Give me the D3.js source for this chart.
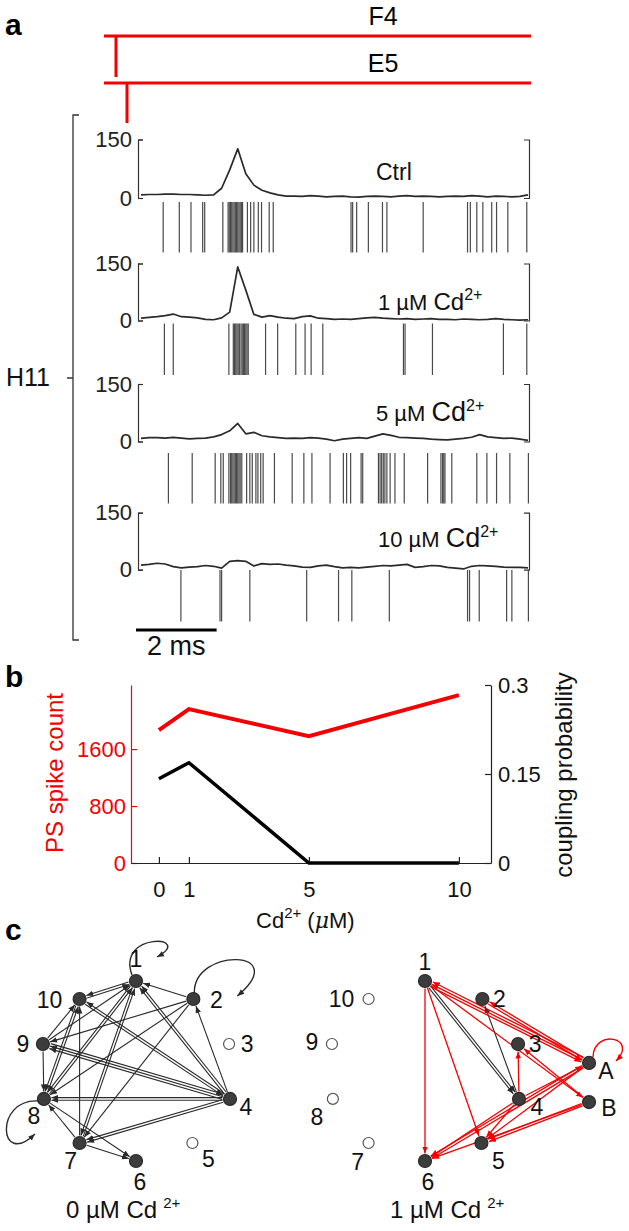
<!DOCTYPE html>
<html><head><meta charset="utf-8">
<script src="https://cdn.jsdelivr.net/npm/d3@7"></script>
<style>
html,body{margin:0;padding:0;background:#fff;}
svg{display:block;}
text{font-family:"Liberation Sans",Arial,Helvetica,sans-serif;}
</style></head><body>
<svg id="fig" width="629" height="1231"></svg>
<script>
// ================= DATA =================
// Panel a
const stimulusLabels = ["F4", "E5"];
const conditionLabels = ["Ctrl", "1 µM", "5 µM", "10 µM"];
const psthTicks = [0, 150];
const psthTimes = [0,0.2,0.4,0.6,0.8,1.0,1.2,1.4,1.6,1.8,2.0,2.2,2.4,2.6,2.8,3.0,3.2,3.4,3.6,3.8,4.0,4.2,4.4,4.6,4.8,
  5.0,5.2,5.4,5.6,5.8,6.0,6.2,6.4,6.6,6.8,7.0,7.2,7.4,7.6,7.8,8.0,8.2,8.4,8.6,8.8,9.0,9.2,9.4,9.6];
const psthCtrl = [8,9,9,10,10,9,9,8,7,8,25,72,126,62,33,20,13,8,5,5,4,6,5,3,4,5,3,2,4,5,4,3,5,6,4,5,4,3,4,5,4,6,5,3,5,4,3,4,8];
const psth1uM  = [6,8,10,13,17,10,9,7,3,2,7,22,141,80,16,9,13,9,6,5,10,12,6,5,3,4,3,5,7,8,6,5,4,5,3,4,5,3,3,2,4,3,2,3,5,3,2,1,2];
const psth5uM  = [8,10,10,9,11,9,7,8,9,12,18,28,47,20,24,15,12,10,8,9,8,10,9,6,2,6,8,10,8,14,20,16,11,10,9,8,6,5,4,6,8,11,18,12,10,8,9,6,3];
const psth10uM = [12,14,17,15,8,5,7,8,11,9,4,22,24,22,10,16,14,15,12,10,7,6,10,12,8,5,6,5,7,9,11,10,12,14,6,8,11,10,6,4,2,9,11,10,9,7,6,6,5];
const spikesCtrl = [0.55,0.95,1.24,1.53,1.58,2.03,2.16,2.19,2.22,2.25,2.28,2.31,2.34,2.37,2.40,2.43,2.46,2.49,2.52,2.64,2.72,2.80,2.91,2.99,3.18,3.28,5.21,5.25,5.35,5.64,5.99,6.10,7.00,8.10,8.17,8.33,8.48,8.70,8.82,9.10,9.57];
const spikes1uM = [0.58,0.80,2.18,2.29,2.32,2.35,2.38,2.41,2.44,2.48,2.51,2.54,2.57,2.60,2.63,2.66,3.09,3.39,3.84,4.07,4.22,4.51,6.51,6.55,7.23,8.99,9.57];
const spikes5uM = [0.68,1.27,1.84,1.98,2.04,2.18,2.22,2.25,2.28,2.31,2.34,2.37,2.40,2.43,2.46,2.50,2.62,2.70,2.76,2.85,2.90,2.97,3.03,3.31,3.75,4.04,4.24,4.69,5.02,5.10,5.20,5.46,5.50,5.89,5.93,5.97,6.01,6.05,6.10,6.18,6.30,6.53,7.11,7.44,7.48,7.51,7.54,7.71,8.33,8.58,8.82,9.15,9.61];
const spikes10uM = [0.99,1.96,2.00,2.70,4.11,4.90,5.23,6.16,8.10,8.15,8.39,9.07,9.20,9.61];
const scaleBarMs = 2;

// Panel b
const cdConc = [0, 1, 5, 10];
const psSpikeCount = [1867, 2161, 1782, 2358];
const couplingProb = [0.142, 0.169, 0, 0];
const xTicksB = [0, 1, 5, 10];
const leftTicksB = [0, 800, 1600];
const rightTicksB = [0, 0.15, 0.3];

// Panel c
const nodeIds = ["1","10","2","9","3","8","4","7","6","5","A","B"];
const activeLeft = ["1","2","4","6","7","8","9","10"];
const activeRight = ["1","2","3","4","5","6","A","B"];
const edgesLeft = [
  ["10","1"],["9","1"],["8","1"],["7","1"],["4","1"],["4","1"],["2","1"],
  ["1","10"],["4","10"],["9","10"],["8","10"],["7","10"],
  ["2","9"],["4","9"],["4","9"],
  ["9","8"],["10","8"],["1","8"],["2","8"],["4","8"],["4","8"],["7","8"],
  ["4","7"],["4","7"],["2","7"],["1","7"],
  ["7","6"],["8","6"],
  ["4","2"],["10","4"],["9","4"]
];
const edgesRightBlack = [["1","4"],["1","4"],["4","2"]];
const edgesRightRed = [
  ["1","6"],["1","5"],["A","1"],["A","1"],["1","A"],["1","B"],["A","2"],["2","A"],
  ["B","3"],["4","3"],["4","A"],["A","6"],["A","6"],["4","6"],["4","5"],["B","5"],["B","5"],["B","6"],["A","5"]
];
const selfLoopsLeft = ["1","2","8"];
const selfLoopsRight = ["A"];

// ================= LAYOUT =================
const svg = d3.select("#fig");
const RED = "#f40000";
const INK = "#111";
const FONT = '"Liberation Sans",Arial,sans-serif';
svg.append("rect").attr("width",629).attr("height",1231).attr("fill","#fff");

// panel letters
[["a",5,35],["b",5,687],["c",5,940]].forEach(([t,x,y]) =>
  svg.append("text").attr("x",x).attr("y",y).attr("font-size",30).attr("font-weight","bold").attr("fill","#000").text(t));

// ---------- Panel a ----------
const stimY = [36, 83];
stimulusLabels.forEach((lab,i) => {
  svg.append("line").attr("x1",104).attr("x2",531).attr("y1",stimY[i]).attr("y2",stimY[i])
    .attr("stroke",RED).attr("stroke-width",3);
  svg.append("text").attr("x",383).attr("y",stimY[i]-11).attr("text-anchor","middle")
    .attr("font-size",25).attr("fill","#000").text(lab);
});
svg.append("line").attr("x1",116).attr("x2",116).attr("y1",36).attr("y2",77).attr("stroke",RED).attr("stroke-width",3);
svg.append("line").attr("x1",127).attr("x2",127).attr("y1",83).attr("y2",123).attr("stroke",RED).attr("stroke-width",3);

// big bracket + H11
svg.append("path").attr("d","M79,115H73V640H79M73,378H67").attr("fill","none").attr("stroke","#333").attr("stroke-width",1.3);
svg.append("text").attr("x",6).attr("y",386).attr("font-size",25).attr("fill",INK).text("H11");

const xT = d3.scaleLinear().domain([0, 9.6]).range([141, 528]);
const panelTop  = [139.5, 263.5, 384, 512.7];
const panelZero = [198, 320.5, 441.5, 569.7];
const rasterTop = [202, 323.5, 453, 570];
const rasterBot = [252.5, 375, 503.5, 621.5];
const psths = [psthCtrl, psth1uM, psth5uM, psth10uM];
const spikes = [spikesCtrl, spikes1uM, spikes5uM, spikes10uM];
const labelPos = [[376,180],[378,310],[376,421],[378,547]];
const cdSize = [0, 24, 27, 27];

conditionLabels.forEach((cond, i) => {
  const y = d3.scaleLinear().domain([0,150]).range([panelZero[i], panelTop[i]]);
  const gL = svg.append("g").attr("transform","translate(138,0)")
    .call(d3.axisLeft(y).tickValues(psthTicks).tickSizeInner(-5).tickSizeOuter(-5).tickPadding(6).tickFormat(d3.format("d")));
  gL.selectAll("path,line").attr("stroke","#333").attr("stroke-width",1.2);
  gL.selectAll("text").attr("font-size",22).attr("fill","#222").attr("font-family",FONT);
  const gR = svg.append("g").attr("transform","translate(529,0)")
    .call(d3.axisRight(y).tickValues([]).tickSizeOuter(-5));
  gR.selectAll("path").attr("stroke","#333").attr("stroke-width",1.2);

  const line = d3.line().x((d,j) => xT(psthTimes[j])).y(d => y(d));
  svg.append("path").datum(psths[i]).attr("d", line).attr("fill","none")
    .attr("stroke","#2a2a2a").attr("stroke-width",1.7).attr("stroke-linejoin","round");

  svg.append("g").selectAll("line").data(spikes[i]).join("line")
    .attr("x1", d => xT(d)).attr("x2", d => xT(d))
    .attr("y1", rasterTop[i]).attr("y2", rasterBot[i])
    .attr("stroke","#4a4a4a").attr("stroke-width",1.2);

  const t = svg.append("text").attr("x",labelPos[i][0]).attr("y",labelPos[i][1]).attr("fill",INK);
  if (i === 0) { t.attr("font-size",23).text(cond); }
  else {
    t.append("tspan").attr("font-size",22).text(cond + " ");
    t.append("tspan").attr("font-size",cdSize[i]).text("Cd");
    t.append("tspan").attr("font-size",16).attr("dy",-10).text("2+");
  }
});

// scale bar
const sbX0 = 136;
svg.append("line").attr("x1",sbX0).attr("x2",sbX0 + xT(scaleBarMs) - xT(0)).attr("y1",630).attr("y2",630)
  .attr("stroke","#000").attr("stroke-width",3);
svg.append("text").attr("x",sbX0 + (xT(scaleBarMs)-xT(0))/2).attr("y",655).attr("text-anchor","middle")
  .attr("font-size",27).attr("fill",INK).text(scaleBarMs + " ms");

// ---------- Panel b ----------
const xB = d3.scaleLinear().domain([-0.93, 11.07]).range([131, 491]);
const yL = d3.scaleLinear().domain([0, 2500]).range([863, 685]);
const yR = d3.scaleLinear().domain([0, 0.3]).range([863, 685]);

const gBL = svg.append("g").attr("transform","translate(131,0)")
  .call(d3.axisLeft(yL).tickValues(leftTicksB).tickSizeInner(-6).tickSizeOuter(0).tickPadding(5).tickFormat(d3.format("d")));
gBL.selectAll("path,line").attr("stroke",RED).attr("stroke-width",1.2);
gBL.selectAll("text").attr("fill",RED).attr("font-size",22).attr("font-family",FONT);

const gBR = svg.append("g").attr("transform","translate(491,0)")
  .call(d3.axisRight(yR).tickValues(rightTicksB).tickSizeInner(-6).tickSizeOuter(0).tickPadding(7).tickFormat(d => String(d)));
gBR.selectAll("path,line").attr("stroke","#222").attr("stroke-width",1.2);
gBR.selectAll("text").attr("fill",INK).attr("font-size",22).attr("font-family",FONT);

const gBB = svg.append("g").attr("transform","translate(0,863)")
  .call(d3.axisBottom(xB).tickValues(xTicksB).tickSizeInner(-6).tickSizeOuter(0).tickPadding(18));
gBB.selectAll("path,line").attr("stroke","#222").attr("stroke-width",1.2);
gBB.selectAll("text").attr("fill",INK).attr("font-size",22).attr("font-family",FONT);

svg.append("path").datum(cdConc.map((c,i)=>[c, psSpikeCount[i]]))
  .attr("d", d3.line().x(d=>xB(d[0])).y(d=>yL(d[1]))).attr("fill","none").attr("stroke",RED).attr("stroke-width",4);
svg.append("path").datum(cdConc.map((c,i)=>[c, couplingProb[i]]))
  .attr("d", d3.line().x(d=>xB(d[0])).y(d=>yR(d[1]))).attr("fill","none").attr("stroke","#000").attr("stroke-width",3.5);

svg.append("text").attr("transform","translate(63,773) rotate(-90)").attr("text-anchor","middle")
  .attr("font-size",24).attr("fill",RED).text("PS spike count");
svg.append("text").attr("transform","translate(572,775) rotate(-90)").attr("text-anchor","middle")
  .attr("font-size",24).attr("fill",INK).text("coupling probability");
const xl = svg.append("text").attr("x",256).attr("y",928).attr("fill",INK).attr("font-size",22);
xl.append("tspan").text("Cd");
xl.append("tspan").attr("font-size",15).attr("dy",-10).text("2+");
xl.append("tspan").attr("dy",10).text(" (");
xl.append("tspan").attr("font-style","italic").attr("font-family","'DejaVu Serif',serif").text("μ");
xl.append("tspan").text("M)");

// ---------- Panel c ----------
const ring = {"1":[0,-1],"10":[-0.6,-0.8],"2":[0.61,-0.8],"9":[-0.99,-0.3],"3":[0.99,-0.3],
  "8":[-0.98,0.31],"4":[1.0,0.31],"7":[-0.6,0.8],"6":[0,1],"5":[0.6,0.8],"A":[1.745,-0.09],"B":[1.745,0.345]};
const labOffLeft = {"1":[0,-22],"10":[-30,1],"2":[23,1],"9":[-20,0],"3":[18,0],"8":[-10,17],"4":[16,8],"7":[-9,18],"6":[4,21],"5":[16,16]};
const labOffRight = {"1":[0,-19],"10":[-27,0],"2":[17,0],"9":[-20,-2],"3":[17,0],"A":[17,8],"8":[-16,18],"4":[18,8],"B":[20,6],"7":[-11,19],"5":[17,18],"6":[3,21]};

const defs = svg.append("defs");
[["arrK","#2a2a2a"],["arrR",RED]].forEach(([id,col]) => {
  defs.append("marker").attr("id",id).attr("viewBox","0 -5 10 10").attr("refX",10).attr("refY",0)
    .attr("markerWidth",7).attr("markerHeight",7).attr("markerUnits","userSpaceOnUse").attr("orient","auto")
    .append("path").attr("d","M0,-4L10,0L0,4Z").attr("fill",col);
});

const loopShapes = {
  "1": "M-4,-6 C-20,-50 60,-45 21,-24",
  "2": "M1,-6 C0,-52 100,-50 44,-3",
  "8": "M-6,2 C-50,0 -45,70 -9,35",
  "A": "M4,-6 C5,-35 50,-25 27,-2"
};

function drawNetwork(cx, ids, active, edgeSets, loops, labOff, caption, capX) {
  const sx = d3.scaleLinear().domain([-1,1]).range([cx-94, cx+94]);
  const sy = d3.scaleLinear().domain([-1,1]).range([981, 1161]);
  const pos = id => [sx(ring[id][0]), sy(ring[id][1])];
  const rad = id => active.includes(id) ? 6.5 : 5.5;
  const g = svg.append("g");
  edgeSets.forEach(({edges, color, marker, width}) => {
    const counts = {}, seen = {};
    edges.forEach(([a,b]) => { const k=[a,b].sort().join("|"); counts[k]=(counts[k]||0)+1; });
    edges.forEach(([a,b]) => {
      const k=[a,b].sort().join("|"); const idx = seen[k]||0; seen[k]=idx+1;
      const [p,q] = [a,b].sort();
      const P = pos(p), Q = pos(q);
      let dx=Q[0]-P[0], dy=Q[1]-P[1]; const L=Math.hypot(dx,dy);
      const nx=-dy/L, ny=dx/L;
      const off=(idx-(counts[k]-1)/2)*2.6;
      const S=pos(a), T=pos(b);
      let ux=T[0]-S[0], uy=T[1]-S[1]; const D=Math.hypot(ux,uy); ux/=D; uy/=D;
      const rs=rad(a)+1, rt=rad(b)+1;
      g.append("line")
        .attr("x1",S[0]+ux*rs+nx*off).attr("y1",S[1]+uy*rs+ny*off)
        .attr("x2",T[0]-ux*rt+nx*off).attr("y2",T[1]-uy*rt+ny*off)
        .attr("stroke",color).attr("stroke-width",width).attr("marker-end",`url(#${marker})`);
    });
  });
  loops.forEach(({id,color,marker}) => {
    const [x,y]=pos(id);
    g.append("path").attr("transform",`translate(${x},${y})`).attr("d",loopShapes[id])
      .attr("fill","none").attr("stroke",color).attr("stroke-width",1.4).attr("marker-end",`url(#${marker})`);
  });
  ids.forEach(id => {
    const [x,y]=pos(id);
    const on = active.includes(id);
    g.append("circle").attr("cx",x).attr("cy",y).attr("r",rad(id))
      .attr("fill", on ? "#3c3c3c" : "#fff").attr("stroke", on ? "#2a2a2a" : "#555").attr("stroke-width",1.2);
    g.append("text").attr("x",x+labOff[id][0]).attr("y",y+labOff[id][1]).attr("dy","0.36em")
      .attr("text-anchor","middle").attr("font-size",23).attr("fill",INK).text(id);
  });
  const c = svg.append("text").attr("x",capX).attr("y",1218).attr("fill",INK).attr("font-size",24);
  c.append("tspan").text(caption + " Cd");
  c.append("tspan").attr("font-size",15).attr("dx",6).attr("dy",-10).text("2+");
}

drawNetwork(136, nodeIds.filter(d => d!=="A" && d!=="B"), activeLeft,
  [{edges:edgesLeft,color:"#2a2a2a",marker:"arrK",width:1.1}],
  selfLoopsLeft.map(id=>({id,color:"#2a2a2a",marker:"arrK"})), labOffLeft, "0 µM", 66);
drawNetwork(425, nodeIds, activeRight,
  [{edges:edgesRightBlack,color:"#2a2a2a",marker:"arrK",width:1.1},{edges:edgesRightRed,color:RED,marker:"arrR",width:1.3}],
  selfLoopsRight.map(id=>({id,color:RED,marker:"arrR"})), labOffRight, "1 µM", 390);
</script>
</body></html>
